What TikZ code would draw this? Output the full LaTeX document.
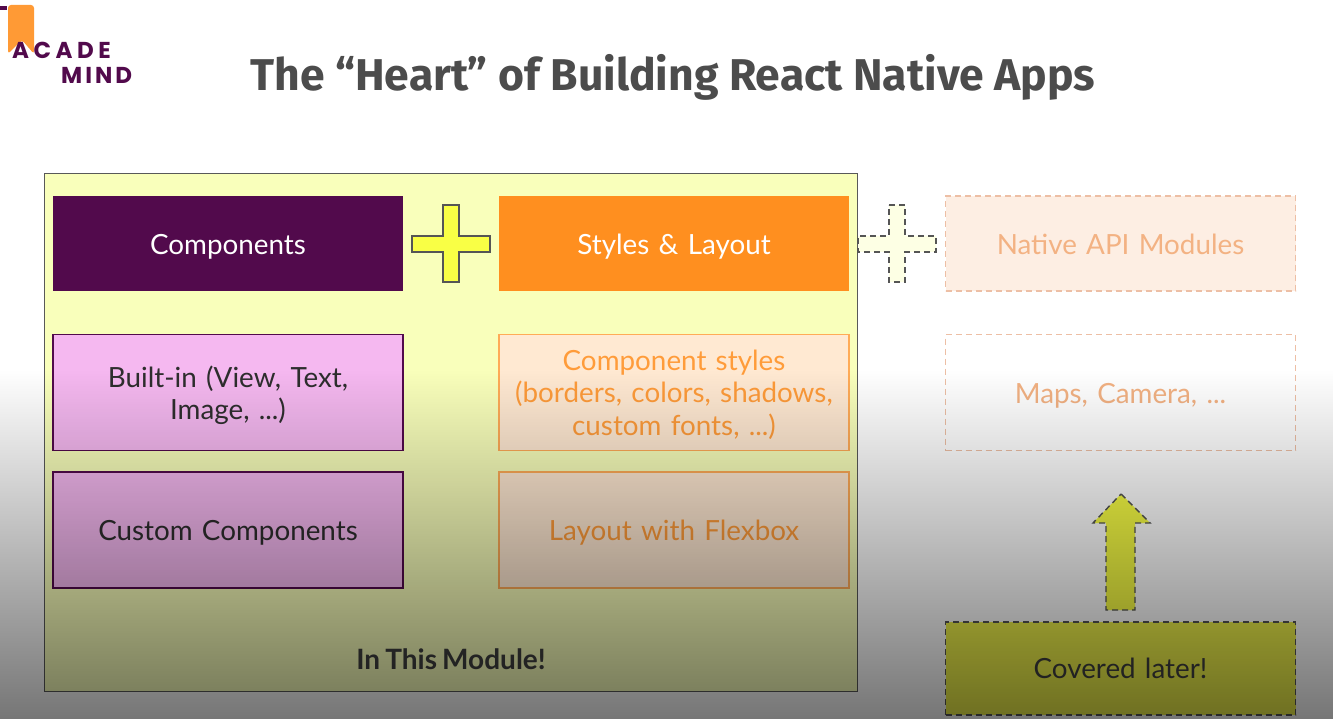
\documentclass[tikz,border=0pt]{standalone}
\usepackage{fontspec}
\setmainfont[WordSpace=0.75]{Lato}
\newfontfamily\titlefont{Fira Sans}
\newfontfamily\logofont{Poppins}
\usetikzlibrary{fadings}
\definecolor{purp}{HTML}{520A4C}
\definecolor{orng}{HTML}{FF8F1F}
\definecolor{modfill}{HTML}{F9FFBB}
\definecolor{plusy}{HTML}{F9FF45}
\definecolor{peach}{HTML}{F3B283}
\definecolor{peachb}{HTML}{EDBFA5}
\definecolor{peachf}{HTML}{FDEEE3}
\definecolor{dashg}{HTML}{555555}
\definecolor{txt}{HTML}{2E2E2E}
\definecolor{pinkf}{HTML}{F5B8F0}
\definecolor{laterf}{HTML}{EFF24A}
\tikzfading[name=bottomshade,top color=transparent!100,middle color=transparent!85,bottom color=transparent!46]
\tikzset{
  x=1pt,y=-1pt,
  boxt/.style={minimum width=350pt,inner sep=0pt},
  lbl/.style={text width=345pt,align=center,inner sep=0pt,yshift=-3pt,font=\fontsize{27.8}{32.5}\selectfont},
  headbox/.style={boxt,minimum height=95pt},
  subbox/.style={boxt,minimum height=116pt},
  purpbox/.style={subbox,draw=purp,line width=1.3pt,fill=pinkf},
  orngbox/.style={subbox,draw=orng!75!white,line width=1.5pt,fill=orng!20!white},
  ghost/.style={boxt,draw=peachb,line width=1.5pt,dashed,dash pattern=on 6pt off 4pt},
  plusfill/.style={line width=1.4pt,draw=dashg},
}
\begin{document}
\begin{tikzpicture}
\useasboundingbox (0,0) rectangle (1335,719);
\fill[white] (0,0) rectangle (1335,719);
% logo
\fill[orng!90!white,rounded corners=3pt] (8,5) -- (34,5) -- (34,54) -- (22,40) -- (8,54) -- cycle;
\fill[purp] (0,6) rectangle (7,10);
\node[font=\logofont\bfseries\fontsize{23}{23}\selectfont,text=purp,anchor=west,inner sep=0pt] (logoa) at (12,50) {A\hspace{4.5pt}C\hspace{4.5pt}A\hspace{4.5pt}D\hspace{4.5pt}E};
\node[font=\logofont\bfseries\fontsize{23}{23}\selectfont,text=purp,anchor=west,inner sep=0pt] (logob) at (61,75) {M\hspace{3pt}I\hspace{3pt}N\hspace{3pt}D};
% title
\node[font=\titlefont\bfseries\fontsize{44.5}{44.5}\selectfont,text=black!70,inner sep=0pt] (title) at (673,77) {The “Heart” of Building React Native Apps};
% module
\node[draw=black!65,line width=1.5pt,fill=modfill,minimum width=813pt,minimum height=518pt,inner sep=0pt] (module) at (451,432.5) {};
\node[font=\bfseries\fontsize{28}{28}\selectfont,text=black!75,inner sep=0pt] (modlabel) at (451,659) {In This Module!};
% heads
\node[headbox,fill=purp] (comp) at (228,243.5) {};
\node[lbl,text=white] (compl) at (comp.center) {Components};
\node[headbox,fill=orng] (styles) at (674,243.5) {};
\node[lbl,text=white] (stylesl) at (styles.center) {Styles \& Layout};
\node[ghost,fill=peachf,minimum height=95pt] (api) at (1120.5,243.5) {};
\node[lbl,text=peach,yshift=2pt] (apil) at (api.center) {Native API Modules};
% pluses
\draw[plusfill,fill=plusy] (443,205) -- (459,205) -- (459,236) -- (490,236) -- (490,252) -- (459,252) -- (459,282) -- (443,282) -- (443,252) -- (412,252) -- (412,236) -- (443,236) -- cycle;
\draw[plusfill,dashed,dash pattern=on 6pt off 4pt,fill=modfill!40!white] (889,205) -- (905,205) -- (905,236) -- (936,236) -- (936,252) -- (905,252) -- (905,282) -- (889,282) -- (889,252) -- (858,252) -- (858,236) -- (889,236) -- cycle;
% sub boxes
\node[purpbox] (builtin) at (228,392.5) {};
\node[lbl,text=txt] (builtinl) at (builtin.center) {Built-in (View, Text,\\Image, ...)};
\node[purpbox] (custom) at (228,530) {};
\node[lbl,text=txt] (customl) at (custom.center) {Custom Components};
\node[orngbox] (cstyles) at (674,392.5) {};
\node[lbl,text=orng!88!white,yshift=1pt] (cstylesl) at (cstyles.center) {Component styles\\(borders, colors, shadows,\\custom fonts, ...)};
\node[orngbox] (flex) at (674,530) {};
\node[lbl,text=orng!88!white] (flexl) at (flex.center) {Layout with Flexbox};
\node[ghost,fill=white,minimum height=116pt] (maps) at (1120.5,392.5) {};
\node[lbl,text=peach] (mapsl) at (maps.center) {Maps, Camera, ...};
% arrow
\draw[line width=1.4pt,draw=dashg,dashed,dash pattern=on 6pt off 4pt,fill=plusy] (1121,494) -- (1150,523) -- (1135,523) -- (1135,610) -- (1106,610) -- (1106,523) -- (1093,523) -- cycle;
% later
\node[boxt,draw=dashg,line width=1.4pt,dashed,dash pattern=on 6pt off 4pt,fill=laterf,minimum height=93pt] (later) at (1120.5,668.5) {};
\node[lbl,text=black!75,yshift=3pt] (laterl) at (later.center) {Covered later!};
% bottom shade over everything
\fill[black,path fading=bottomshade] (0,370) rectangle (1335,719);
\end{tikzpicture}
\end{document}
